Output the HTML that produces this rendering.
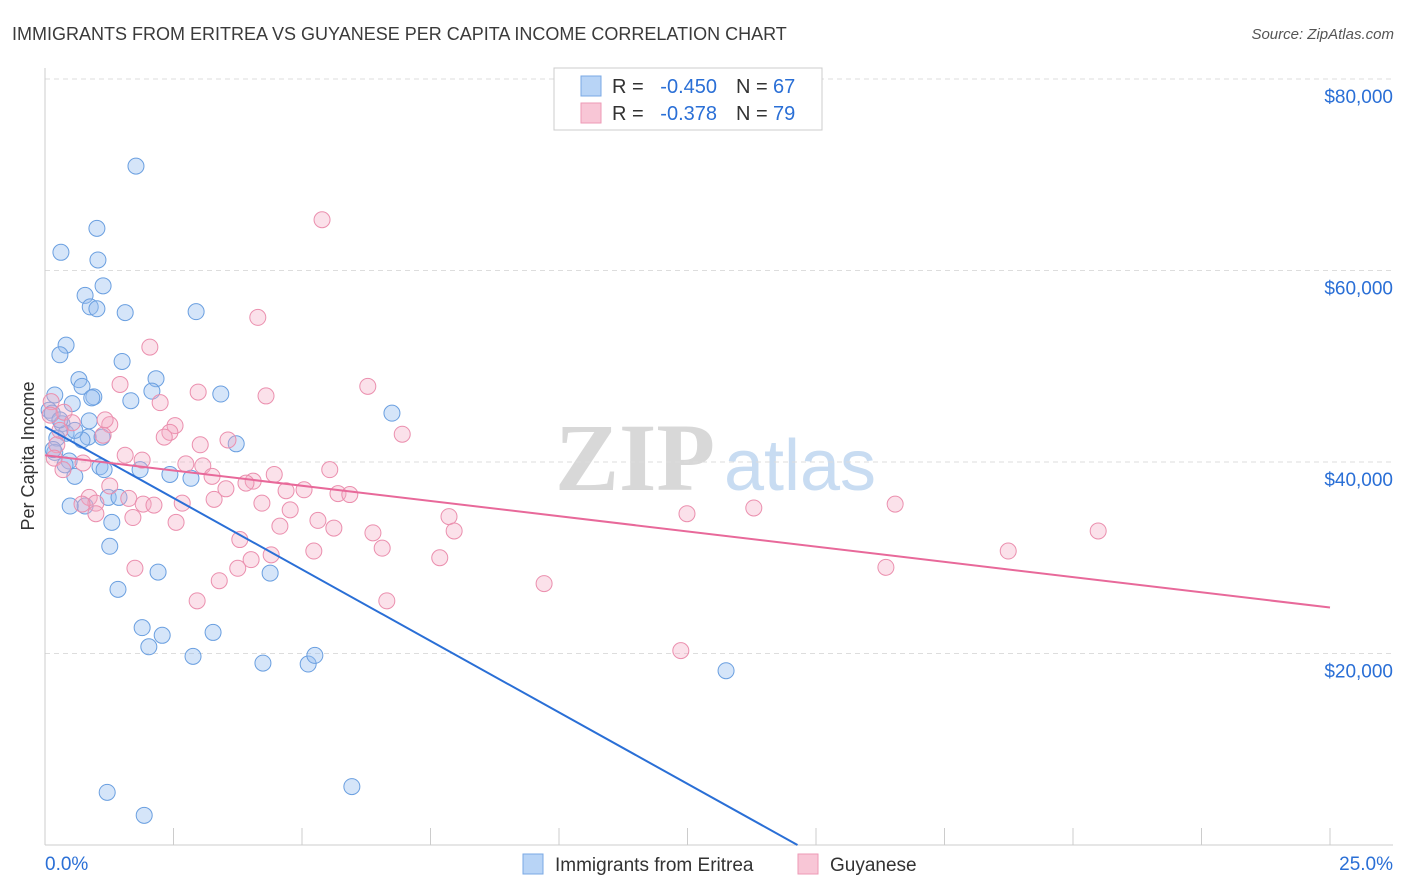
<!DOCTYPE html>
<html><head><meta charset="utf-8"><style>
body{margin:0;background:#fff;font-family:"Liberation Sans",sans-serif;}
</style></head><body>
<svg id="chart" width="1406" height="892" xmlns="http://www.w3.org/2000/svg" style="display:block">
<text x="12" y="40" font-size="18" fill="#3a3a3a" font-family="Liberation Sans,sans-serif">IMMIGRANTS FROM ERITREA VS GUYANESE PER CAPITA INCOME CORRELATION CHART</text>
<text x="1394" y="39" font-size="15" fill="#555" text-anchor="end" font-style="italic">Source: ZipAtlas.com</text>
<g>
<text x="635" y="490" font-size="96" fill="#d8d8d8" text-anchor="middle" font-family="Liberation Serif,serif" font-weight="bold">ZIP</text>
<text x="800" y="490" font-size="72" fill="#c8dcf2" text-anchor="middle">atlas</text>
</g>
<g id="grid"></g><g id="axes"></g><g id="pts"></g><g id="lines"></g>
<text transform="translate(34,456) rotate(-90)" font-size="18" fill="#333" text-anchor="middle">Per Capita Income</text>
<g>
<rect x="554" y="68" width="268" height="62" fill="#fff" stroke="#ccc"/>
<rect x="581" y="76" width="20" height="20" fill="#b8d4f6" stroke="#7aa8e4"/>
<rect x="581" y="103" width="20" height="20" fill="#f8c6d6" stroke="#ee9ab6"/>
<text x="612" y="93" font-size="20" fill="#333">R =</text>
<text x="717" y="93" font-size="20" fill="#2a6fd6" text-anchor="end">-0.450</text>
<text x="736" y="93" font-size="20" fill="#333">N =</text>
<text x="773" y="93" font-size="20" fill="#2a6fd6">67</text>
<text x="612" y="120" font-size="20" fill="#333">R =</text>
<text x="717" y="120" font-size="20" fill="#2a6fd6" text-anchor="end">-0.378</text>
<text x="736" y="120" font-size="20" fill="#333">N =</text>
<text x="773" y="120" font-size="20" fill="#2a6fd6">79</text>
</g>
<g>
<rect x="523" y="854" width="20" height="20" fill="#b8d4f6" stroke="#7aa8e4"/>
<text x="555" y="871" font-size="19" fill="#333">Immigrants from Eritrea</text>
<rect x="798" y="854" width="20" height="20" fill="#f8c6d6" stroke="#ee9ab6"/>
<text x="830" y="871" font-size="19" fill="#333">Guyanese</text>
</g>
</svg>
<script>
const xTickLabels=["0.0%","25.0%"];
const yTicks=[20000,40000,60000,80000];
const blueX=[1.77,0.31,1.01,1.03,1.13,0.78,0.88,1.01,1.56,2.94,0.41,0.29,1.50,0.66,0.72,2.16,2.08,0.95,0.91,3.42,1.67,0.19,0.53,0.08,0.14,6.75,0.33,0.86,0.41,0.23,0.84,1.11,3.72,0.19,0.47,1.07,1.15,1.85,0.58,2.43,2.84,1.23,1.44,0.78,0.49,1.30,1.26,1.42,2.20,4.38,1.89,2.28,3.27,2.02,2.88,4.24,5.12,5.25,13.25,1.21,1.93,5.97,0.72,0.29,0.16,0.58,0.39];
const blueY=[70.9,61.9,64.4,61.1,58.4,57.4,56.2,56.0,55.6,55.7,52.2,51.2,50.5,48.6,47.9,48.7,47.4,46.8,46.7,47.1,46.4,47.0,46.1,45.4,45.1,45.1,44.0,44.3,43.0,42.5,42.6,42.6,41.9,41.0,40.1,39.5,39.2,39.2,38.5,38.7,38.3,36.3,36.3,35.4,35.4,33.7,31.2,26.7,28.5,28.4,22.7,21.9,22.2,20.7,19.7,19.0,18.9,19.8,18.2,5.5,3.1,6.1,42.3,44.4,41.3,43.3,39.7];
const pinkX=[5.39,4.14,2.04,1.46,6.28,2.98,4.30,2.24,0.12,0.37,0.53,1.26,2.53,2.43,6.95,2.32,1.13,3.56,0.23,0.18,1.56,1.89,0.74,2.74,3.07,3.25,4.46,4.05,3.91,3.52,1.26,4.69,5.04,5.70,5.93,0.86,1.63,0.99,1.91,2.12,2.67,4.22,3.29,0.72,0.99,1.71,2.55,5.31,7.86,4.57,5.62,6.38,7.96,12.49,13.79,16.54,20.49,18.74,6.56,5.23,7.68,4.01,4.40,3.75,1.75,16.36,3.39,9.71,2.96,6.65,12.37,0.29,0.10,1.17,3.02,4.77,3.79,5.54,0.35];
const pinkY=[65.3,55.1,52.0,48.1,47.9,47.3,46.9,46.2,46.3,45.2,44.1,43.9,43.8,43.1,42.9,42.6,42.8,42.3,41.8,40.4,40.7,40.2,39.9,39.8,39.6,38.5,38.7,38.0,37.8,37.2,37.5,37.0,37.1,36.7,36.6,36.3,36.2,35.7,35.6,35.5,35.7,35.7,36.1,35.6,34.6,34.2,33.7,33.9,34.3,33.3,33.1,32.6,32.8,34.6,35.2,35.6,32.8,30.7,31.0,30.7,30.0,29.8,30.3,28.9,28.9,29.0,27.6,27.3,25.5,25.5,20.3,43.3,44.9,44.4,41.8,35.0,31.9,39.2,39.2];
const blueFit=[43700,-2985];
const pinkFit=[40700,-636];
const NS="http://www.w3.org/2000/svg";
const sx=v=>45+v*51.4, sy=v=>845-v*0.009575;
function mk(t,a,p){const e=document.createElementNS(NS,t);for(const k in a)e.setAttribute(k,a[k]);document.getElementById(p).appendChild(e);return e;}
yTicks.forEach(v=>{
 const g=mk('line',{x1:45,x2:1393,y1:sy(v),y2:sy(v),stroke:'#ddd','stroke-dasharray':'5,4'},'grid');
 
 
 const t=mk('text',{x:1393,y:sy(v)+24,'font-size':19,fill:'#2a6fd6','text-anchor':'end'},'axes');
 t.textContent='$'+v.toLocaleString('en-US');
 
 
});
mk('line',{x1:45,x2:45,y1:68,y2:845,stroke:'#ccc'},'axes');
mk('line',{x1:45,x2:1393,y1:845,y2:845,stroke:'#ccc'},'axes');
for(let i=1;i<=10;i++){const l=mk('line',{x1:sx(i*2.5),x2:sx(i*2.5),y1:828,y2:845,stroke:'#ccc'},'axes');
 
 }
[[0,'start',45],[1,'end',1393]].forEach(([i,a,x])=>{const t=mk('text',{x:x,y:870,'font-size':19,fill:'#2a6fd6','text-anchor':a},'axes');t.textContent=xTickLabels[i];
 
 });
blueX.forEach((x,i)=>{const c=mk('circle',{cx:sx(x),cy:sy(blueY[i]*1000),r:8,fill:'rgba(150,190,240,0.4)',stroke:'#6a9fe0','stroke-width':1},'pts');
 
 });
pinkX.forEach((x,i)=>{const c=mk('circle',{cx:sx(x),cy:sy(pinkY[i]*1000),r:8,fill:'rgba(244,170,195,0.35)',stroke:'#eb8fae','stroke-width':1},'pts');
 
 });
const bx2=-blueFit[0]/blueFit[1];
const bl=mk('line',{x1:sx(0),y1:sy(blueFit[0]),x2:sx(bx2),y2:sy(0),stroke:'#2a6fd6','stroke-width':2},'lines');


const pl=mk('line',{x1:sx(0),y1:sy(pinkFit[0]),x2:sx(25),y2:sy(pinkFit[0]+pinkFit[1]*25),stroke:'#e8699a','stroke-width':2},'lines');


</script>
</body></html>
